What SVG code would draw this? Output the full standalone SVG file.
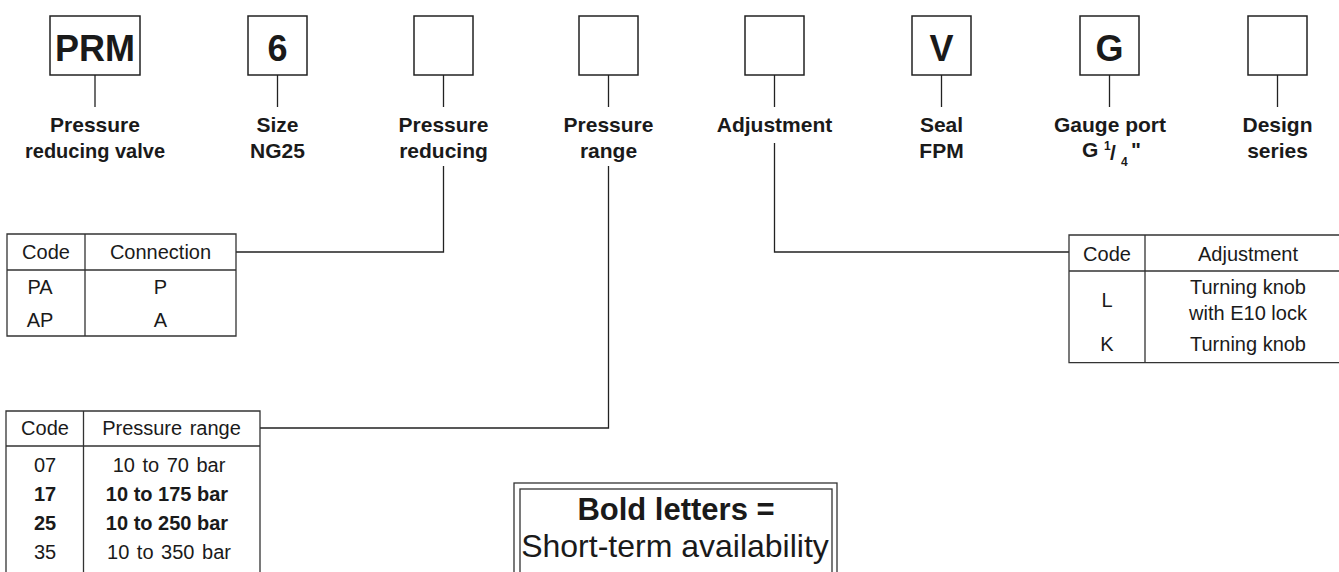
<svg xmlns="http://www.w3.org/2000/svg" width="1339" height="572" viewBox="0 0 1339 572">
<style>
.bx{fill:#fff;stroke:#222;stroke-width:1.5}
.ln{fill:none;stroke:#222;stroke-width:1.3}
.tb{fill:none;stroke:#333;stroke-width:1.3}
.big{font-family:"Liberation Sans",Arial,sans-serif;font-weight:bold;font-size:36px;fill:#1a1a1a;text-anchor:middle}
.lb{font-family:"Liberation Sans",Arial,sans-serif;font-weight:bold;font-size:21px;fill:#1a1a1a;text-anchor:middle}
.t{font-family:"Liberation Sans",Arial,sans-serif;font-size:20px;fill:#1a1a1a;text-anchor:middle}
.tbd{font-family:"Liberation Sans",Arial,sans-serif;font-size:20px;font-weight:bold;fill:#1a1a1a;text-anchor:middle}
.ws{word-spacing:2px}
.lg{font-family:"Liberation Sans",Arial,sans-serif;font-size:31px;fill:#1a1a1a;text-anchor:middle}
</style>
<rect width="1339" height="572" fill="#fff"/>
<g id="connectors">
<path class="ln" d="M95 75V107M277.5 75V107M443.5 75V107M608.5 75V107M774.5 75V107M941.5 75V107M1109.5 75V107M1277.5 75V107"/>
<path class="ln" d="M443.5 166V252H236"/>
<path class="ln" d="M608.5 166V428H260"/>
<path class="ln" d="M774.5 143V252H1069"/>
</g>
<g id="node-prm"><rect class="bx" x="50" y="16" width="90" height="59"/><text class="big" x="95" y="61">PRM</text>
<text class="lb" x="95" y="132">Pressure</text><text class="lb" x="95" y="158" textLength="140" lengthAdjust="spacingAndGlyphs">reducing valve</text></g>
<g id="node-size"><rect class="bx" x="248" y="16" width="59" height="59"/><text class="big" x="277.5" y="61">6</text>
<text class="lb" x="277.5" y="132">Size</text><text class="lb" x="277.5" y="158">NG25</text></g>
<g id="node-reducing"><rect class="bx" x="414" y="16" width="59" height="59"/>
<text class="lb" x="443.5" y="132">Pressure</text><text class="lb" x="443.5" y="158">reducing</text></g>
<g id="node-range"><rect class="bx" x="579" y="16" width="59" height="59"/>
<text class="lb" x="608.5" y="132">Pressure</text><text class="lb" x="608.5" y="158">range</text></g>
<g id="node-adjust"><rect class="bx" x="745" y="16" width="59" height="59"/>
<text class="lb" x="774.5" y="132">Adjustment</text></g>
<g id="node-seal"><rect class="bx" x="912" y="16" width="59" height="59"/><text class="big" x="941.5" y="61">V</text>
<text class="lb" x="941.5" y="132">Seal</text><text class="lb" x="941.5" y="158">FPM</text></g>
<g id="node-gauge"><rect class="bx" x="1080" y="16" width="59" height="59"/><text class="big" x="1109.5" y="61">G</text>
<text class="lb" x="1110" y="132">Gauge port</text>
<text class="lb" style="text-anchor:start" x="1082" y="157">G</text>
<text class="lb" style="text-anchor:start;font-size:12px" x="1104" y="150">1</text>
<text class="lb" style="text-anchor:start" x="1110" y="160">/</text>
<text class="lb" style="text-anchor:start;font-size:12px" x="1121" y="166">4</text>
<text class="lb" style="text-anchor:start" x="1131" y="157">"</text></g>
<g id="node-design"><rect class="bx" x="1248" y="16" width="59" height="59"/>
<text class="lb" x="1277.5" y="132">Design</text><text class="lb" x="1277.5" y="158">series</text></g>
<g id="table-connection">
<path class="tb" d="M7 234H236V336H7ZM7 270H236M85 234V336"/>
<text class="t" x="46" y="259">Code</text><text class="t" x="160.5" y="259">Connection</text>
<text class="t" x="40" y="294">PA</text><text class="t" x="160.5" y="294">P</text>
<text class="t" x="40" y="327">AP</text><text class="t" x="160.5" y="327">A</text>
</g>
<g id="table-range">
<path class="tb" d="M6 580V411H260V580M6 446H260M83.5 411V580"/>
<text class="t" x="45" y="435">Code</text><text class="t ws" x="171.5" y="435">Pressure range</text>
<text class="t" x="45" y="472">07</text><text class="t ws" x="169" y="472">10 to 70 bar</text>
<text class="tbd" x="45" y="501">17</text><text class="tbd" x="167" y="501">10 to 175 bar</text>
<text class="tbd" x="45" y="530">25</text><text class="tbd" x="167" y="530">10 to 250 bar</text>
<text class="t" x="45" y="559">35</text><text class="t ws" x="169" y="559">10 to 350 bar</text>
</g>
<g id="table-adjustment">
<path class="tb" d="M1345 235H1069V362.7H1345M1069 271H1345M1145 235V362.7"/>
<text class="t" x="1107" y="261">Code</text><text class="t" x="1248" y="261">Adjustment</text>
<text class="t" x="1107" y="307">L</text><text class="t" x="1248" y="294">Turning knob</text><text class="t" x="1248" y="319.5">with E10 lock</text>
<text class="t" x="1107" y="351">K</text><text class="t" x="1248" y="351">Turning knob</text>
</g>
<g id="legend">
<rect class="tb" x="514" y="483" width="323" height="100"/>
<rect class="tb" x="520" y="489" width="312" height="100"/>
<text class="lg" style="font-weight:bold" x="676" y="520">Bold letters =</text>
<text class="lg" style="font-size:32px" x="675" y="557">Short-term availability</text>
</g>
</svg>
